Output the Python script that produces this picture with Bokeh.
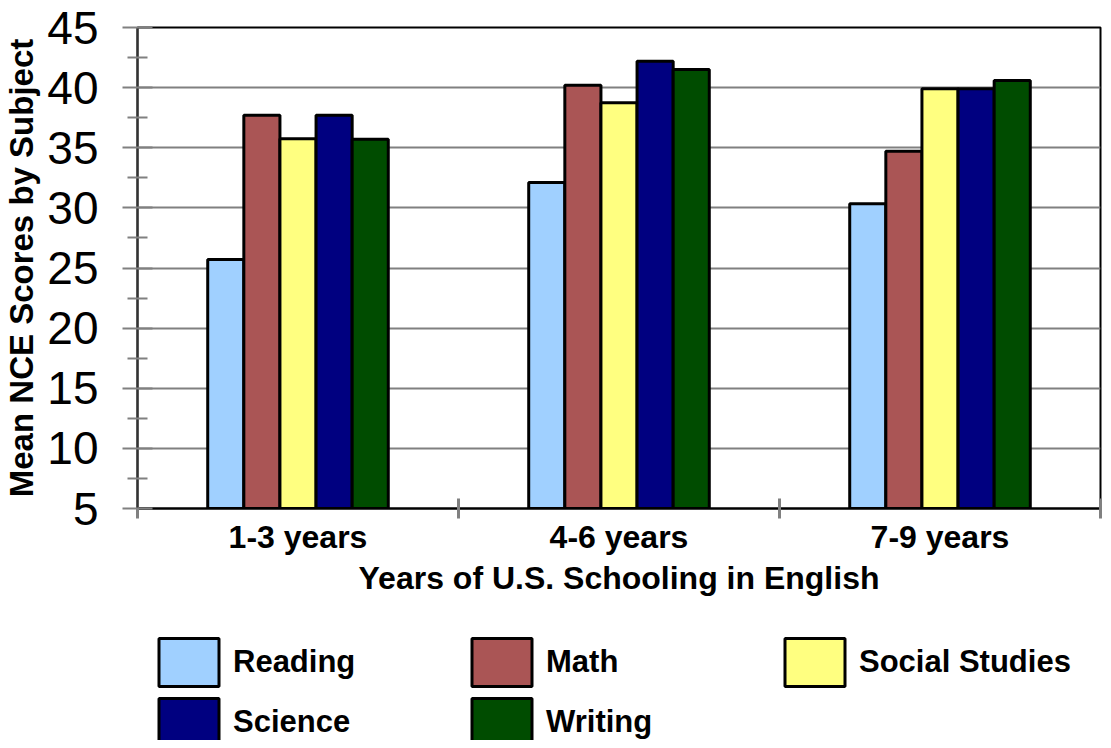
from bokeh.plotting import figure
from bokeh.layouts import column
from bokeh.models import (FactorRange, Range1d, LinearAxis, CategoricalAxis, FixedTicker,
                          Legend, LegendItem, ColumnDataSource)
from bokeh.transform import dodge
from bokeh.embed import file_html
from bokeh.resources import INLINE

categories = ["1-3 years", "4-6 years", "7-9 years"]
subjects = ["Reading", "Math", "Social Studies", "Science", "Writing"]
reading = [25.7, 32.1, 30.35]
math = [37.7, 40.2, 34.7]
social_studies = [35.75, 38.75, 39.9]
science = [37.7, 42.2, 39.9]
writing = [35.7, 41.5, 40.6]
y_ticks = [5, 10, 15, 20, 25, 30, 35, 40, 45]
colors = ["#A0D0FF", "#AA5555", "#FFFF80", "#000080", "#004C00"]

FONT = "Liberation Sans"

src = ColumnDataSource(dict(cat=categories, Reading=reading, Math=math,
                            SocialStudies=social_studies, Science=science, Writing=writing))
cols = ["Reading", "Math", "SocialStudies", "Science", "Writing"]

p = figure(x_range=FactorRange(factors=categories), y_range=Range1d(y_ticks[0], y_ticks[-1]),
           frame_width=963, frame_height=481, min_border_left=129, min_border_top=27,
           min_border_right=3, min_border_bottom=100, x_axis_location=None,
           output_backend="svg", toolbar_location=None)

# y axis
minor = [t + 2.5 for t in y_ticks[:-1]]
ticker = FixedTicker(ticks=y_ticks, minor_ticks=minor)
ya = p.yaxis[0]
ya.ticker = ticker
ya.axis_line_color = "#333333"
ya.axis_line_width = 2
ya.major_tick_in = 15
ya.major_tick_out = 15
ya.major_tick_line_color = "#808080"
ya.major_tick_line_width = 2
ya.minor_tick_in = 10
ya.minor_tick_out = 10
ya.minor_tick_line_color = "#808080"
ya.minor_tick_line_width = 2
ya.major_label_text_font = FONT
ya.major_label_text_font_size = "46px"
ya.major_label_text_color = "black"
ya.major_label_standoff = 24
ya.axis_label = "Mean NCE Scores by Subject"
ya.axis_label_text_font = FONT
ya.axis_label_text_font_size = "33px"
ya.axis_label_text_font_style = "bold"
ya.axis_label_text_color = "black"
ya.axis_label_standoff = 4

p.ygrid.ticker = ticker
p.ygrid.grid_line_color = "#808080"
p.ygrid.grid_line_width = 2
p.xgrid.grid_line_color = None
p.outline_line_color = "black"
p.outline_line_width = 2
p.outline_line_alpha = 1

# boundary tick axis (ticks between the categories, in synthetic coordinates)
ta = LinearAxis(ticker=FixedTicker(ticks=list(range(len(categories) + 1))),
                major_tick_in=10, major_tick_out=10, major_tick_line_color="#808080",
                major_tick_line_width=3, minor_tick_line_color=None,
                axis_line_color="black", axis_line_width=2,
                major_label_text_font_size="0px", major_label_standoff=0)
p.add_layout(ta, "below")

ca = CategoricalAxis(axis_line_color=None, major_tick_line_color=None,
                     major_tick_in=0, major_tick_out=0,
                     major_label_text_font=FONT, major_label_text_font_size="32px",
                     major_label_text_font_style="bold", major_label_text_color="black",
                     major_label_standoff=0,
                     axis_label="Years of U.S. Schooling in English",
                     axis_label_text_font=FONT, axis_label_text_font_size="32px",
                     axis_label_text_font_style="bold", axis_label_text_color="black",
                     axis_label_standoff=2)
p.add_layout(ca, "below")

bw = 0.1125
for i, (col, c) in enumerate(zip(cols, colors)):
    p.vbar(x=dodge("cat", (i - 2) * bw, range=p.x_range), top=col, bottom=y_ticks[0],
           width=bw, source=src, fill_color=c, line_color="black", line_width=3)

# legend panel (its renderers are hidden; only the legend swatches show)
lg = figure(width=1095, height=132, min_border=0, x_range=FactorRange(factors=categories),
            y_range=Range1d(0, 1), x_axis_location=None, y_axis_location=None,
            output_backend="svg", toolbar_location=None)
lg.grid.visible = False
lg.outline_line_color = None
items = []
for i, (col, name, c) in enumerate(zip(cols, subjects, colors)):
    r = lg.vbar(x=dodge("cat", (i - 2) * bw, range=lg.x_range), top=col, bottom=y_ticks[0],
                width=bw, source=src, fill_color=c, line_color="black", line_width=3)
    r.visible = False
    items.append(LegendItem(label=name, renderers=[r]))

legend = Legend(items=items, orientation="horizontal", ncols=3,
                glyph_width=75, glyph_height=60, label_standoff=7, label_width=231,
                spacing=0, padding=0, margin=0, border_line_color=None,
                background_fill_alpha=0, inactive_fill_alpha=0,
                label_text_font=FONT, label_text_font_size="31px",
                label_text_font_style="bold", label_text_color="black",
                location=(14, -12))
lg.add_layout(legend, "center")

layout = column(p, lg, spacing=0)
open("out.html", "w").write(file_html(layout, INLINE))
